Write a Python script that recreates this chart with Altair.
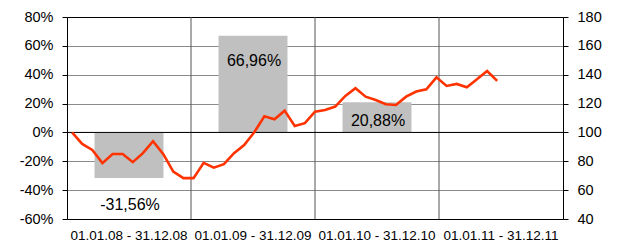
import altair as alt
import pandas as pd

periods = ["01.01.08 - 31.12.08", "01.01.09 - 31.12.09",
           "01.01.10 - 31.12.10", "01.01.11 - 31.12.11"]
bar_periods = periods[:3]
returns_pct = [-31.56, 66.96, 20.88]

index_values = [100, 92.0, 87.9, 78.7, 85.1, 85.1, 79.4, 85.6, 93.9, 85.1,
                72.9, 68.3, 68.3, 78.9, 75.6, 78.0, 85.6, 91.3, 100.1, 111.2,
                109.1, 115.1, 104.5, 106.4, 114.4, 115.6, 117.9, 125.3, 130.6, 124.8,
                122.5, 119.5, 119.0, 124.8, 128.3, 129.9, 138.2, 132.2, 133.6, 131.3,
                136.8, 142.6, 135.7]
months = list(range(len(index_values)))
year_boundaries = [1, 2, 3]

left_ticks = [-0.6, -0.4, -0.2, 0, 0.2, 0.4, 0.6, 0.8]
zero_line = [0]
right_ticks = [40, 60, 80, 100, 120, 140, 160, 180]

FONT = "Liberation Sans"

bar_df = pd.DataFrame({
    "period": bar_periods,
    "ret": [v / 100 for v in returns_pct],
    "label": [f"{v:.2f}".replace(".", ",") + "%" for v in returns_pct],
})
line_df = pd.DataFrame({"m": months, "v": index_values})
bound_df = pd.DataFrame({"b": year_boundaries})


def yscale():
    return alt.Scale(domain=[-0.6, 0.8], nice=False, zero=False)


def band_scale():
    return alt.Scale(domain=periods, paddingInner=0.444, paddingOuter=0.222)


x_axis = alt.Axis(title=None, labelAngle=0, ticks=False, tickSize=0, orient="bottom",
                  domainColor="black", domainWidth=1,
                  labelFont=FONT, labelFontSize=13.5, labelColor="black",
                  labelPadding=9, grid=False, labelOverlap=False)

top_axis = alt.Axis(title=None, orient="top", labels=False, ticks=False, grid=False,
                    domain=True, domainColor="black", domainWidth=1)

left_axis = alt.Axis(title=None, values=left_ticks, orient="left",
                     labelExpr="round(datum.value*100) + '%'",
                     grid=True, gridColor="#8a8a8a", gridWidth=1.2, gridOpacity=1,
                     labelOverlap=False,
                     domainColor="black", tickColor="black", tickSize=5,
                     labelFont=FONT, labelFontSize=14.5, labelColor="black",
                     labelPadding=9)

right_axis = alt.Axis(orient="right", title=None, values=right_ticks, grid=False,
                      labelOverlap=False,
                      domainColor="black", tickColor="black", tickSize=5,
                      labelFont=FONT, labelFontSize=14.5, labelColor="black",
                      labelPadding=9)

vrules = alt.Chart(bound_df).mark_rule(color="#555555", strokeWidth=1).encode(
    x=alt.X("b:Q", scale=alt.Scale(domain=[0, 4], nice=False, zero=False), axis=top_axis)
)

bars = alt.Chart(bar_df).mark_bar(color="#C0C0C0").encode(
    x=alt.X("period:N", sort=periods, scale=band_scale(), axis=x_axis),
    y=alt.Y("ret:Q", scale=yscale(), axis=left_axis),
)

kgrid = alt.Chart(pd.DataFrame({"z": zero_line})).mark_rule(
    color="black", strokeWidth=1
).encode(y=alt.Y("z:Q", scale=yscale(), axis=None))

label_dy = [27, 25, 19]
texts = []
for i, dy in enumerate(label_dy):
    texts.append(
        alt.Chart(bar_df.iloc[[i]]).mark_text(
            dy=dy, dx=1, fontSize=16, font=FONT, color="black", baseline="middle"
        ).encode(
            x=alt.X("period:N", sort=periods, scale=band_scale(), axis=None),
            y=alt.Y("ret:Q", scale=yscale(), axis=None),
            text="label:N",
        )
    )

line = alt.Chart(line_df).mark_line(color="#FF3300", strokeWidth=2.6).encode(
    x=alt.X("m:Q", scale=alt.Scale(domain=[-0.5, 48.5], nice=False, zero=False), axis=None),
    y=alt.Y("v:Q", scale=alt.Scale(domain=[40, 180], nice=False, zero=False), axis=right_axis),
)

chart = alt.layer(vrules, bars, kgrid, *texts, line).resolve_scale(
    x="independent", y="independent"
).resolve_axis(
    x="independent", y="independent"
).properties(
    width=496, height=202,
    autosize=alt.AutoSizeParams(type="none"),
    padding={"left": 59, "top": 9, "right": 46, "bottom": 22},
).configure_view(stroke=None).configure(background="white")

chart.save("out.html", embed_options={"renderer": "svg", "actions": False})
